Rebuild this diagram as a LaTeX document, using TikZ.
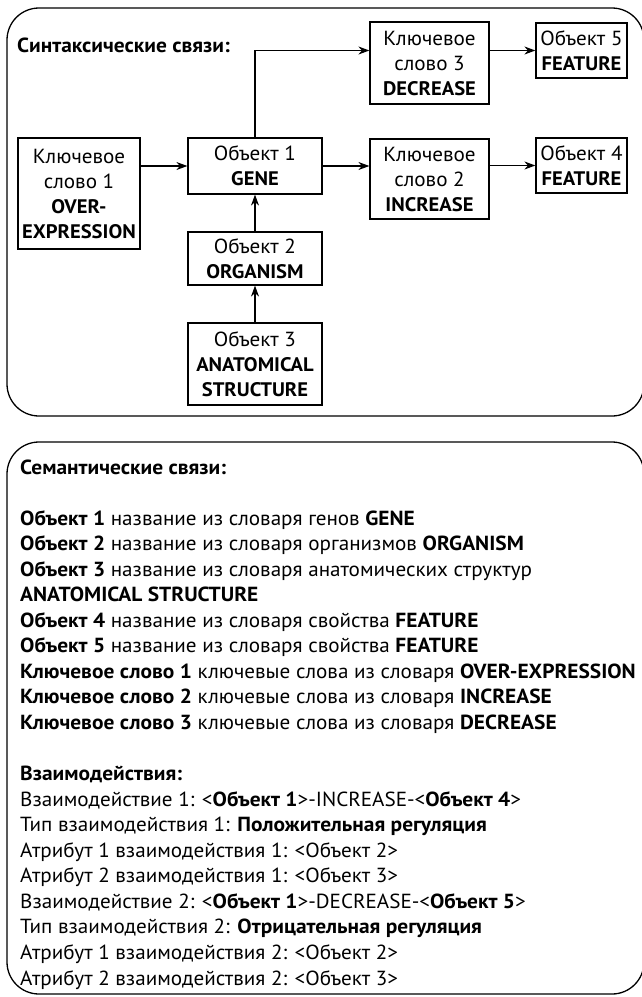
\documentclass[tikz,border=0pt]{standalone}
\usepackage{fontspec}
\setmainfont{PT Sans}[FakeStretch=1.035, BoldFeatures={FakeStretch=1.05}]
\usetikzlibrary{arrows.meta}
\newcommand\fsz{\fontsize{20.4}{25}\selectfont}
\newcommand\bx[1]{{\fontsize{19.6}{25}\selectfont\bfseries #1}}
\tikzset{
  box/.style={draw, line width=1.2pt, inner sep=0pt, align=center, font=\fsz},
  arr/.style={line width=1.2pt, -{Stealth[length=11pt,width=8pt]}},
  frame/.style={draw, line width=1.3pt, rounded corners=32pt},
  ln/.style={anchor=base west, inner sep=0pt, font=\fsz},
}
\begin{document}
\begin{tikzpicture}[x=1pt,y=-1pt]
\useasboundingbox (0,0) rectangle (641,997);
% frames
\draw[frame] (7,8) rectangle (644,416);
\draw[frame] (7,442) rectangle (644,994);
% title top
\node[ln] (t1) at (17,52) {\textbf{Синтаксические связи:}};
% boxes
\node[box, minimum width=119pt, minimum height=82pt] (kw3) at (429.5,63) {Ключевое\\слово 3\\\bx{DECREASE}};
\node[box, minimum width=91pt, minimum height=55pt] (ob5) at (581.5,50.5) {Объект 5\\\bx{FEATURE}};
\node[box, minimum width=122pt, minimum height=111pt] (kw1) at (79,193.5) {Ключевое\\слово 1\\\bx{OVER-}\\\bx{EXPRESSION}};
\node[box, minimum width=134pt, minimum height=56pt] (ob1) at (255,166) {Объект 1\\\bx{GENE}};
\node[box, minimum width=119pt, minimum height=80pt] (kw2) at (429.5,179) {Ключевое\\слово 2\\\bx{INCREASE}};
\node[box, minimum width=91pt, minimum height=55pt] (ob4) at (581.5,165.5) {Объект 4\\\bx{FEATURE}};
\node[box, minimum width=134pt, minimum height=53pt] (ob2) at (255,258.5) {Объект 2\\\bx{ORGANISM}};
\node[box, minimum width=134pt, minimum height=82pt] (ob3) at (255,364) {Объект 3\\\bx{ANATOMICAL}\\\bx{STRUCTURE}};
% connectors
\draw[arr] (kw1.east |- ob1.west) -- (ob1.west);
\draw[arr] (ob1.east) -- (ob1.east -| kw2.west);
\draw[arr] (kw2.east |- ob4.west) -- (ob4.west);
\draw[arr] (ob1.north) |- (kw3.west |- ob5.west);
\draw[arr] (kw3.east |- ob5.west) -- (ob5.west);
\draw[arr] (ob2.north) -- (ob1.south);
\draw[arr] (ob3.north) -- (ob2.south);
% semantic text
\node[ln] (l0) at (20,474) {\textbf{Семантические связи:}};
\node[ln] (l2) at (20,525.1) {\textbf{Объект 1} название из словаря генов \textbf{GENE}};
\node[ln] (l3) at (20,550.65) {\textbf{Объект 2} название из словаря организмов \textbf{ORGANISM}};
\node[ln] (l4) at (20,576.2) {\textbf{Объект 3} название из словаря анатомических структур};
\node[ln] (l5) at (20,601.75) {\textbf{ANATOMICAL STRUCTURE}};
\node[ln] (l6) at (20,627.3) {\textbf{Объект 4} название из словаря свойства \textbf{FEATURE}};
\node[ln] (l7) at (20,652.85) {\textbf{Объект 5} название из словаря свойства \textbf{FEATURE}};
\node[ln] (l8) at (20,678.4) {\textbf{Ключевое слово 1} ключевые слова из словаря \textbf{OVER-EXPRESSION}};
\node[ln] (l9) at (20,703.95) {\textbf{Ключевое слово 2} ключевые слова из словаря \textbf{INCREASE}};
\node[ln] (l10) at (20,729.5) {\textbf{Ключевое слово 3} ключевые слова из словаря \textbf{DECREASE}};
\node[ln] (l12) at (20,780.6) {\textbf{Взаимодействия:}};
\node[ln] (l13) at (20,806.15) {Взаимодействие 1: <\textbf{Объект 1}>-INCREASE-<\textbf{Объект 4}>};
\node[ln] (l14) at (20,831.7) {Тип взаимодействия 1: \textbf{Положительная регуляция}};
\node[ln] (l15) at (20,857.25) {Атрибут 1 взаимодействия 1: <Объект 2>};
\node[ln] (l16) at (20,882.8) {Атрибут 2 взаимодействия 1: <Объект 3>};
\node[ln] (l17) at (20,908.35) {Взаимодействие 2: <\textbf{Объект 1}>-DECREASE-<\textbf{Объект 5}>};
\node[ln] (l18) at (20,933.9) {Тип взаимодействия 2: \textbf{Отрицательная регуляция}};
\node[ln] (l19) at (20,959.45) {Атрибут 1 взаимодействия 2: <Объект 2>};
\node[ln] (l20) at (20,985) {Атрибут 2 взаимодействия 2: <Объект 3>};
\end{tikzpicture}
\end{document}
